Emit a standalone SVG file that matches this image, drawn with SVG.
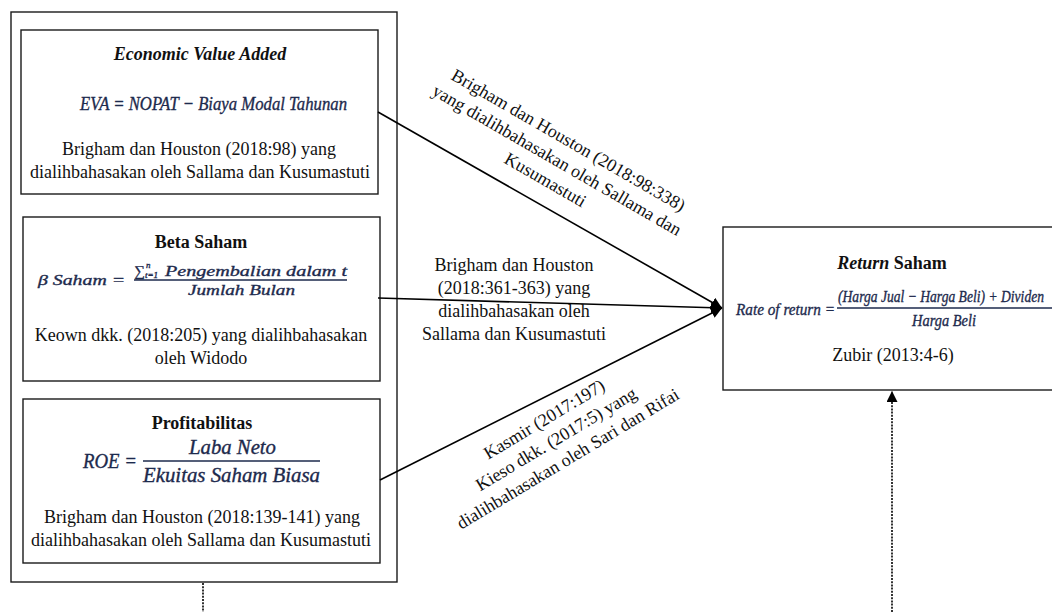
<svg xmlns="http://www.w3.org/2000/svg" width="1052" height="612" viewBox="0 0 1052 612">
  <style>
    .box { fill: #ffffff; stroke: #1a1a1a; stroke-width: 1.4; }
    .cite { font-family: "Liberation Serif", "Times New Roman", serif; font-size: 18px; fill: #111111; text-anchor: middle; }
    .title { font-family: "Liberation Serif", "Times New Roman", serif; font-size: 18px; font-weight: bold; fill: #111111; text-anchor: middle; }
    .math { font-family: "Liberation Serif", "Times New Roman", serif; font-style: italic; fill: #1d2a4d; stroke: #1d2a4d; stroke-width: 0.35; }
    .frac { stroke: #1d2a4d; stroke-width: 1.3; }
    .link { fill: none; stroke: #000000; stroke-width: 1.6; }
    .dotted { fill: none; stroke: #000000; stroke-width: 1.6; stroke-dasharray: 2 1.2; }
    .lbl { font-family: "Liberation Serif", "Times New Roman", serif; font-size: 18px; fill: #111111; text-anchor: middle; }
  </style>
  <defs>
    <marker id="head" viewBox="0 0 10 10" refX="10" refY="5" markerWidth="11" markerHeight="11" markerUnits="userSpaceOnUse" orient="auto">
      <path d="M0,0 L10,5 L0,10 Z" fill="#000000"/>
    </marker>
  </defs>

  <rect width="1052" height="612" fill="#ffffff"/>

  <!-- grouping frame around the three independent variables -->
  <g id="independent-frame">
    <rect class="box" x="11" y="12" width="386" height="570"/>
  </g>

  <!-- Economic Value Added -->
  <g id="node-eva">
    <rect class="box" x="21" y="30" width="357" height="164"/>
    <text class="title" x="200" y="60" font-style="italic">Economic Value Added</text>
    <text class="math" x="80" y="110" font-size="19" textLength="267" lengthAdjust="spacingAndGlyphs">EVA = NOPAT − Biaya Modal Tahunan</text>
    <text class="cite" x="199" y="155">Brigham dan Houston (2018:98) yang</text>
    <text class="cite" x="200" y="178">dialihbahasakan oleh Sallama dan Kusumastuti</text>
  </g>

  <!-- Beta Saham -->
  <g id="node-beta">
    <rect class="box" x="23" y="217" width="357" height="164"/>
    <text class="title" x="201" y="248">Beta Saham</text>
    <text class="math" x="38" y="285" font-size="15" textLength="87" lengthAdjust="spacingAndGlyphs">β Saham =</text>
    <text class="math" x="134" y="276" font-size="15" font-style="normal">∑</text>
    <text class="math" x="146" y="268" font-size="9" stroke-width="0.2">n</text>
    <text class="math" x="145" y="278" font-size="9" stroke-width="0.2">t=1</text>
    <text class="math" x="165" y="276" font-size="15" textLength="182" lengthAdjust="spacingAndGlyphs">Pengembalian dalam t</text>
    <line class="frac" x1="134" y1="280" x2="347" y2="280"/>
    <text class="math" x="188" y="295" font-size="15" textLength="107" lengthAdjust="spacingAndGlyphs">Jumlah Bulan</text>
    <text class="cite" x="201" y="341">Keown dkk. (2018:205) yang dialihbahasakan</text>
    <text class="cite" x="201" y="364">oleh Widodo</text>
  </g>

  <!-- Profitabilitas -->
  <g id="node-roe">
    <rect class="box" x="23" y="399" width="357" height="164"/>
    <text class="title" x="202" y="429">Profitabilitas</text>
    <text class="math" x="83" y="468" font-size="20" textLength="54" lengthAdjust="spacingAndGlyphs">ROE =</text>
    <text class="math" x="189" y="454" font-size="20" textLength="87" lengthAdjust="spacingAndGlyphs">Laba Neto</text>
    <line class="frac" x1="143" y1="461" x2="320" y2="461"/>
    <text class="math" x="143" y="482" font-size="20" textLength="177" lengthAdjust="spacingAndGlyphs">Ekuitas Saham Biasa</text>
    <text class="cite" x="202" y="523">Brigham dan Houston (2018:139-141) yang</text>
    <text class="cite" x="201" y="546">dialihbahasakan oleh Sallama dan Kusumastuti</text>
  </g>

  <!-- Return Saham -->
  <g id="node-return">
    <rect class="box" x="723" y="227" width="340" height="163"/>
    <text class="title" x="892" y="269"><tspan font-style="italic">Return</tspan> Saham</text>
    <text class="math" x="736" y="315" font-size="17" textLength="99" lengthAdjust="spacingAndGlyphs">Rate of return =</text>
    <text class="math" x="838" y="302" font-size="17" textLength="206" lengthAdjust="spacingAndGlyphs">(Harga Jual − Harga Beli) + Dividen</text>
    <line class="frac" x1="837" y1="308" x2="1052" y2="308"/>
    <text class="math" x="912" y="326" font-size="17" textLength="64" lengthAdjust="spacingAndGlyphs">Harga Beli</text>
    <text class="cite" x="893" y="361">Zubir (2013:4-6)</text>
  </g>

  <!-- connectors -->
  <g id="connectors">
    <line class="link" x1="378" y1="112" x2="722" y2="308" marker-end="url(#head)"/>
    <line class="link" x1="378" y1="298" x2="722" y2="308" marker-end="url(#head)"/>
    <line class="link" x1="380" y1="480" x2="722" y2="308" marker-end="url(#head)"/>
    <line class="dotted" x1="203" y1="583" x2="203" y2="612"/>
    <line class="dotted" x1="892" y1="612" x2="892" y2="391" marker-end="url(#head)"/>
  </g>

  <!-- connector labels -->
  <g id="label-eva" transform="translate(557,160) rotate(30)">
    <text class="lbl" x="0" y="-17">Brigham dan Houston (2018:98:338)</text>
    <text class="lbl" x="0" y="6">yang dialihbahasakan oleh Sallama dan</text>
    <text class="lbl" x="0" y="29">Kusumastuti</text>
  </g>
  <g id="label-beta">
    <text class="lbl" x="514" y="271">Brigham dan Houston</text>
    <text class="lbl" x="514" y="294">(2018:361-363) yang</text>
    <text class="lbl" x="514" y="317">dialihbahasakan oleh</text>
    <text class="lbl" x="514" y="340">Sallama dan Kusumastuti</text>
  </g>
  <g id="label-roe" transform="translate(556,439) rotate(-31)">
    <text class="lbl" x="0" y="-17">Kasmir (2017:197)</text>
    <text class="lbl" x="0" y="6">Kieso dkk. (2017:5) yang</text>
    <text class="lbl" x="0" y="29">dialihbahasakan oleh Sari dan Rifai</text>
  </g>
</svg>
